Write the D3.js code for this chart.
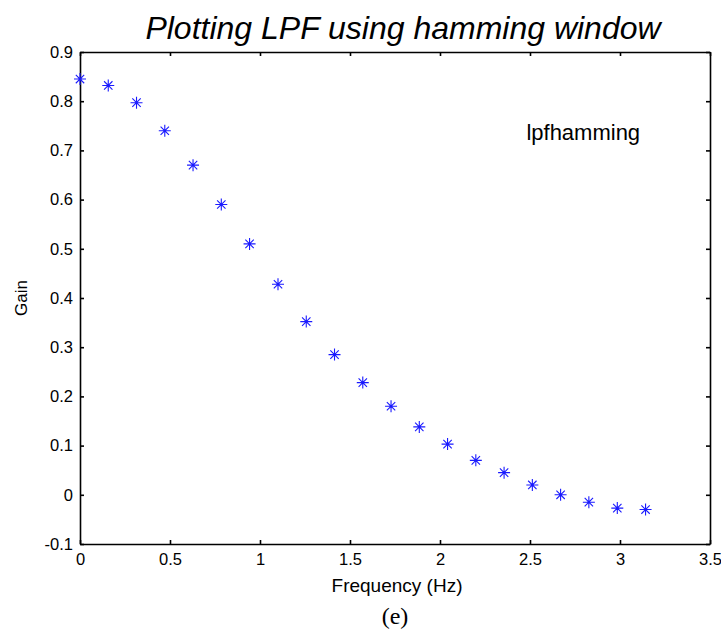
<!DOCTYPE html>
<html>
<head>
<meta charset="utf-8">
<script src="https://cdn.jsdelivr.net/npm/d3@7"></script>
<style>
  body { margin: 0; background: #fff; }
  svg text { font-family: "Liberation Sans", Arial, sans-serif; }
</style>
</head>
<body>
<div id="chart"></div>
<script>
// frequency samples (rad) and gain
var freq = [0, 0.157, 0.314, 0.471, 0.628, 0.785, 0.942, 1.100, 1.257, 1.414,
            1.571, 1.728, 1.885, 2.042, 2.199, 2.356, 2.513, 2.670, 2.827, 2.985, 3.142];
var gain = [0.845, 0.832, 0.797, 0.740, 0.670, 0.590, 0.510, 0.428, 0.352, 0.285,
            0.228, 0.180, 0.138, 0.103, 0.070, 0.045, 0.020, 0.000, -0.015, -0.027, -0.030];
var xTicks = [0, 0.5, 1, 1.5, 2, 2.5, 3, 3.5];
var yTicks = [-0.1, 0, 0.1, 0.2, 0.3, 0.4, 0.5, 0.6, 0.7, 0.8, 0.9];

var svg = d3.select("#chart").append("svg")
    .attr("width", 721).attr("height", 635),
    margin = {top: 52, right: 11, bottom: 91, left: 80},
    width = svg.attr("width") - margin.left - margin.right,
    height = svg.attr("height") - margin.top - margin.bottom,
    g = svg.append("g").attr("transform", "translate(" + margin.left + "," + margin.top + ")");

var x = d3.scaleLinear().domain([0, 3.5]).range([0, width]),
    y = d3.scaleLinear().domain([-0.1, 0.9]).range([height, 0]);

// plain hyphen for negatives, like the matlab figure
var fmt = function(d) { return String(+d.toFixed(1)); };

// axes with inward ticks on all four sides
g.append("g").attr("class", "axis")
    .attr("transform", "translate(0," + height + ")")
    .call(d3.axisBottom(x).tickValues(xTicks).tickSizeInner(-4).tickSizeOuter(0).tickPadding(9).tickFormat(fmt));
g.append("g").attr("class", "axis")
    .call(d3.axisLeft(y).tickValues(yTicks).tickSizeInner(-4).tickSizeOuter(0).tickPadding(7).tickFormat(fmt));
g.append("g").attr("class", "axis")
    .call(d3.axisTop(x).tickValues(xTicks).tickSizeInner(-4).tickSizeOuter(0).tickFormat(""));
g.append("g").attr("class", "axis")
    .attr("transform", "translate(" + width + ",0)")
    .call(d3.axisRight(y).tickValues(yTicks).tickSizeInner(-4).tickSizeOuter(0).tickFormat(""));

g.selectAll(".axis path, .axis line").attr("stroke", "#000").attr("stroke-width", 1.6);
g.selectAll(".axis text").attr("fill", "#000").style("font-size", "16.5px");

// asterisk markers
var pts = g.selectAll(".pt")
    .data(freq.map(function(f, i) { return {f: f, v: gain[i]}; }))
    .enter().append("g")
    .attr("class", "pt")
    .attr("transform", function(d) { return "translate(" + x(d.f) + "," + y(d.v) + ")"; });
var r = 6;
pts.append("path")
    .attr("d", "M" + (-r) + ",0H" + r + "M0," + (-r) + "V" + r +
               "M" + (-r * 0.7) + "," + (-r * 0.7) + "L" + (r * 0.7) + "," + (r * 0.7) +
               "M" + (-r * 0.7) + "," + (r * 0.7) + "L" + (r * 0.7) + "," + (-r * 0.7))
    .attr("stroke", "#1a1aff").attr("stroke-width", 1.1).attr("fill", "none");

// labels
svg.append("text")
    .attr("x", margin.left + width / 2 + 8).attr("y", 39)
    .attr("text-anchor", "middle")
    .style("font-size", "32px").style("font-style", "italic")
    .text("Plotting LPF using hamming window");

g.append("text")
    .attr("x", x(2.48)).attr("y", y(0.722))
    .style("font-size", "22px")
    .text("lpfhamming");

svg.append("text")
    .attr("transform", "translate(27," + (margin.top + height / 2) + ") rotate(-90)")
    .attr("text-anchor", "middle")
    .style("font-size", "17px")
    .text("Gain");

svg.append("text")
    .attr("x", margin.left + width / 2 + 2).attr("y", 592)
    .attr("text-anchor", "middle")
    .style("font-size", "19px")
    .text("Frequency (Hz)");

svg.append("text")
    .attr("x", margin.left + width / 2).attr("y", 624)
    .attr("text-anchor", "middle")
    .style("font-family", "'Liberation Serif', 'Times New Roman', serif")
    .style("font-size", "24px")
    .text("(e)");
</script>
</body>
</html>
